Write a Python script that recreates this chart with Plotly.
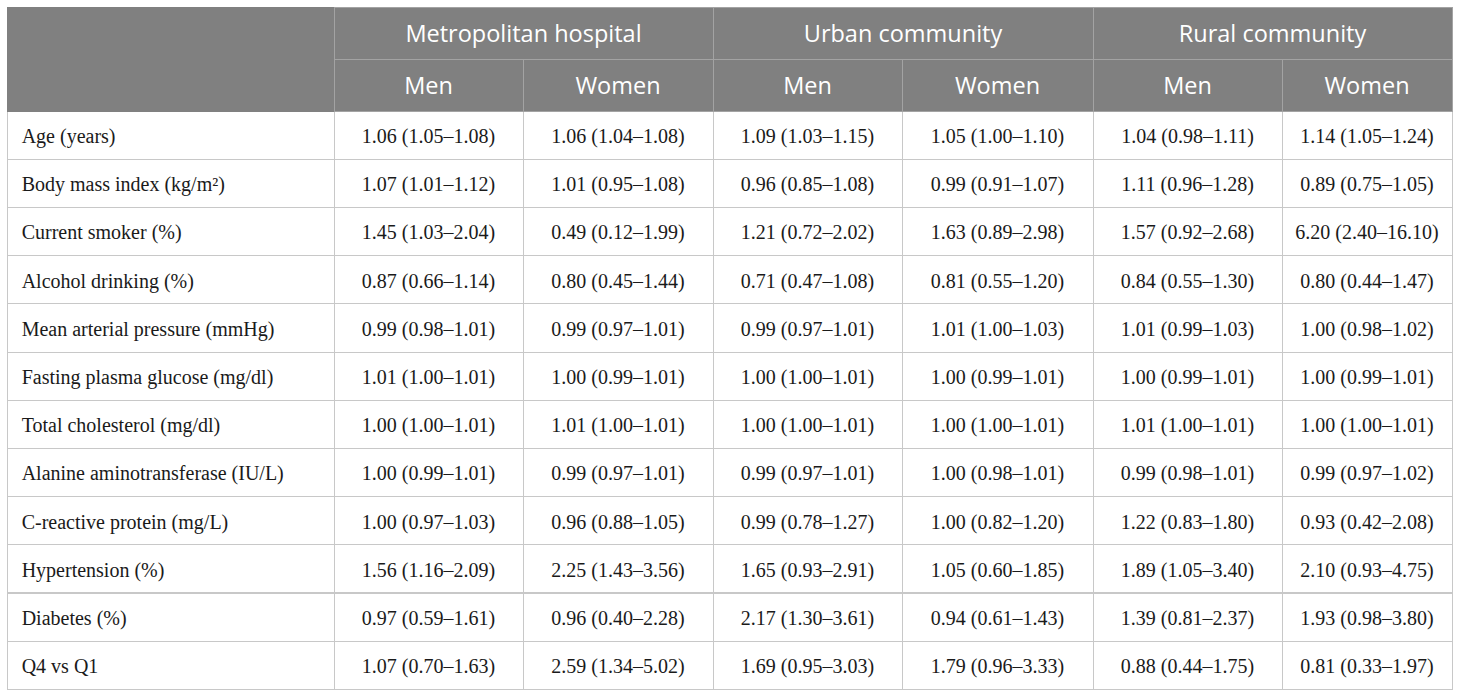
import plotly.graph_objects as go

# =========================
# DATOS
# =========================
groups = ["Metropolitan hospital", "Urban community", "Rural community"]
sexes = ["Men", "Women", "Men", "Women", "Men", "Women"]

row_labels = [
    "Age (years)",
    "Body mass index (kg/m²)",
    "Current smoker (%)",
    "Alcohol drinking (%)",
    "Mean arterial pressure (mmHg)",
    "Fasting plasma glucose (mg/dl)",
    "Total cholesterol (mg/dl)",
    "Alanine aminotransferase (IU/L)",
    "C-reactive protein (mg/L)",
    "Hypertension (%)",
    "Diabetes (%)",
    "Q4 vs Q1",
]

metro_men = [
    "1.06 (1.05–1.08)", "1.07 (1.01–1.12)", "1.45 (1.03–2.04)", "0.87 (0.66–1.14)",
    "0.99 (0.98–1.01)", "1.01 (1.00–1.01)", "1.00 (1.00–1.01)", "1.00 (0.99–1.01)",
    "1.00 (0.97–1.03)", "1.56 (1.16–2.09)", "0.97 (0.59–1.61)", "1.07 (0.70–1.63)",
]
metro_women = [
    "1.06 (1.04–1.08)", "1.01 (0.95–1.08)", "0.49 (0.12–1.99)", "0.80 (0.45–1.44)",
    "0.99 (0.97–1.01)", "1.00 (0.99–1.01)", "1.01 (1.00–1.01)", "0.99 (0.97–1.01)",
    "0.96 (0.88–1.05)", "2.25 (1.43–3.56)", "0.96 (0.40–2.28)", "2.59 (1.34–5.02)",
]
urban_men = [
    "1.09 (1.03–1.15)", "0.96 (0.85–1.08)", "1.21 (0.72–2.02)", "0.71 (0.47–1.08)",
    "0.99 (0.97–1.01)", "1.00 (1.00–1.01)", "1.00 (1.00–1.01)", "0.99 (0.97–1.01)",
    "0.99 (0.78–1.27)", "1.65 (0.93–2.91)", "2.17 (1.30–3.61)", "1.69 (0.95–3.03)",
]
urban_women = [
    "1.05 (1.00–1.10)", "0.99 (0.91–1.07)", "1.63 (0.89–2.98)", "0.81 (0.55–1.20)",
    "1.01 (1.00–1.03)", "1.00 (0.99–1.01)", "1.00 (1.00–1.01)", "1.00 (0.98–1.01)",
    "1.00 (0.82–1.20)", "1.05 (0.60–1.85)", "0.94 (0.61–1.43)", "1.79 (0.96–3.33)",
]
rural_men = [
    "1.04 (0.98–1.11)", "1.11 (0.96–1.28)", "1.57 (0.92–2.68)", "0.84 (0.55–1.30)",
    "1.01 (0.99–1.03)", "1.00 (0.99–1.01)", "1.01 (1.00–1.01)", "0.99 (0.98–1.01)",
    "1.22 (0.83–1.80)", "1.89 (1.05–3.40)", "1.39 (0.81–2.37)", "0.88 (0.44–1.75)",
]
rural_women = [
    "1.14 (1.05–1.24)", "0.89 (0.75–1.05)", "6.20 (2.40–16.10)", "0.80 (0.44–1.47)",
    "1.00 (0.98–1.02)", "1.00 (0.99–1.01)", "1.00 (1.00–1.01)", "0.99 (0.97–1.02)",
    "0.93 (0.42–2.08)", "2.10 (0.93–4.75)", "1.93 (0.98–3.80)", "0.81 (0.33–1.97)",
]

# =========================
# ESTILO
# =========================
W, H = 1460, 699
head_fill = "#808080"
head_line = "#a3a3a3"
body_line = "#c8c8c8"
clear = "rgba(0,0,0,0)"
head_font = dict(family="Open Sans", size=23.5, color="white")
body_font = dict(family="Liberation Serif", size=20, color="#1a1a1a")

col_widths = [327, 189, 190, 189, 191, 189, 170]
group_widths = [col_widths[0], col_widths[1] + col_widths[2],
                col_widths[3] + col_widths[4], col_widths[5] + col_widths[6]]

x_dom = [7 / W, 1452 / W]
top_y = 7          # borde superior de la tabla (px)
split_y = 59       # linea entre filas del encabezado (px)
head_h = 52
row_h = 48.2
text_dy = 9        # plotly pone el texto arriba de la celda; lo bajamos

columns = [["\u2004" + s for s in row_labels], metro_men, metro_women,
           urban_men, urban_women, rural_men, rural_women]
blank_cols = [[""] * len(row_labels) for _ in columns]


def dom_y(top_px):
    return [0, 1 - top_px / H]


fig = go.Figure()

# --- rejilla (rellenos y lineas) ---
fig.add_trace(go.Table(
    domain=dict(x=x_dom, y=dom_y(top_y)),
    columnwidth=group_widths,
    header=dict(
        values=[""] * 4,
        fill_color=head_fill,
        line=dict(color=[head_fill, head_line, head_line, head_line], width=1),
        height=head_h,
    ),
))

fig.add_trace(go.Table(
    domain=dict(x=x_dom, y=dom_y(split_y)),
    columnwidth=col_widths,
    header=dict(
        values=[""] * 7,
        fill_color=head_fill,
        line=dict(color=[head_fill] + [head_line] * 6, width=1),
        height=head_h,
    ),
    cells=dict(
        values=blank_cols,
        fill_color="white",
        line=dict(color=body_line, width=1),
        height=row_h,
    ),
))

# --- textos, centrados verticalmente ---
fig.add_trace(go.Table(
    domain=dict(x=x_dom, y=dom_y(top_y + text_dy)),
    columnwidth=group_widths,
    header=dict(
        values=[""] + groups,
        fill_color=clear,
        line=dict(color=clear, width=0),
        font=head_font,
        align="center",
        height=head_h,
    ),
))

fig.add_trace(go.Table(
    domain=dict(x=x_dom, y=dom_y(split_y + text_dy)),
    columnwidth=col_widths,
    header=dict(
        values=[""] + sexes,
        fill_color=clear,
        line=dict(color=clear, width=0),
        font=head_font,
        align="center",
        height=head_h,
    ),
    cells=dict(
        values=columns,
        fill_color=clear,
        line=dict(color=clear, width=0),
        font=body_font,
        align=["left"] + ["center"] * 6,
        height=row_h,
    ),
))

fig.update_layout(
    width=W,
    height=H,
    margin=dict(l=0, r=0, t=0, b=0),
    paper_bgcolor="white",
)

# quitar el margen por defecto del <body>
fig.write_html("out.html", config={"displayModeBar": False},
               post_script="document.body.style.margin='0';")
